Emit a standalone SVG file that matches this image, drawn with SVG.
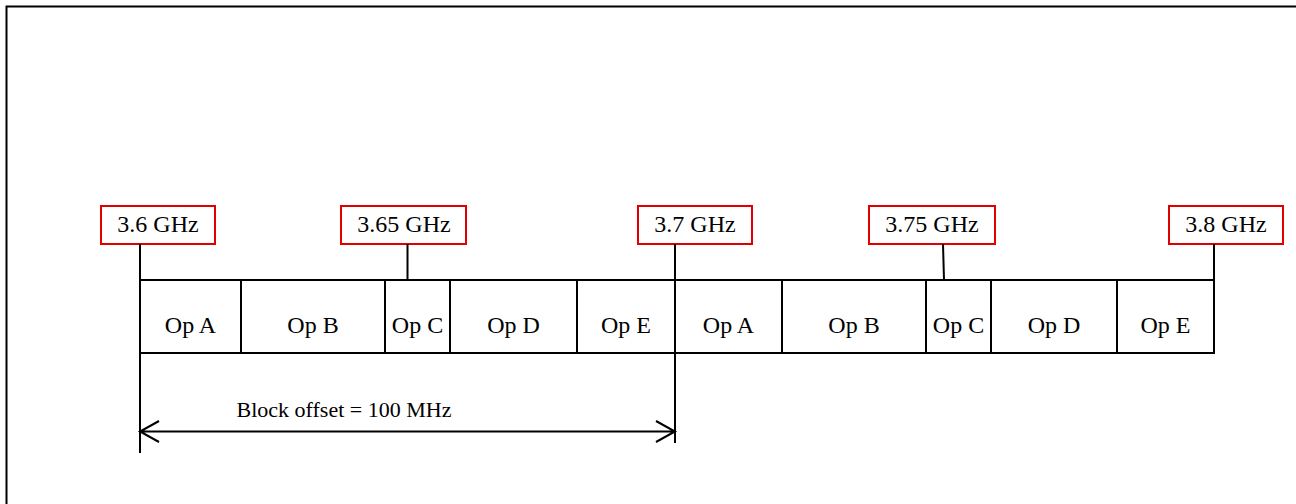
<svg xmlns="http://www.w3.org/2000/svg" width="1296" height="504" viewBox="0 0 1296 504">
<style>
.frame{fill:none;stroke:#000;stroke-width:2}
.lbl{fill:#fff;stroke:#e00000;stroke-width:2}
.ln{fill:none;stroke:#000;stroke-width:2}
.cell{fill:#fff;stroke:#000;stroke-width:2}
.t{font-family:"Liberation Serif","Times New Roman",serif;font-size:24px;fill:#000;text-anchor:middle}
.t2{font-family:"Liberation Serif","Times New Roman",serif;font-size:22px;fill:#000;text-anchor:middle}
</style>
<rect width="1296" height="504" fill="#fff"/>
<path class="frame" d="M6.5,504 V6.5 H1296"/>
<g id="freq-labels">
<g id="f360"><rect class="lbl" x="101" y="206" width="114" height="38"/><text class="t" x="158" y="232">3.6 GHz</text></g>
<g id="f365"><rect class="lbl" x="341" y="206" width="125" height="38"/><text class="t" x="404" y="232">3.65 GHz</text></g>
<g id="f370"><rect class="lbl" x="638" y="206" width="114" height="38"/><text class="t" x="695" y="232">3.7 GHz</text></g>
<g id="f375"><rect class="lbl" x="869" y="206" width="126" height="38"/><text class="t" x="932" y="232">3.75 GHz</text></g>
<g id="f380"><rect class="lbl" x="1169" y="206" width="114" height="38"/><text class="t" x="1226" y="232">3.8 GHz</text></g>
</g>
<g id="cells">
<g id="a1"><rect class="cell" x="140" y="280" width="101" height="73"/><text class="t" x="190.5" y="333">Op A</text></g>
<g id="b1"><rect class="cell" x="241" y="280" width="144" height="73"/><text class="t" x="313" y="333">Op B</text></g>
<g id="c1"><rect class="cell" x="385" y="280" width="65" height="73"/><text class="t" x="417.5" y="333">Op C</text></g>
<g id="d1"><rect class="cell" x="450" y="280" width="127" height="73"/><text class="t" x="513.5" y="333">Op D</text></g>
<g id="e1"><rect class="cell" x="577" y="280" width="98" height="73"/><text class="t" x="626" y="333">Op E</text></g>
<g id="a2"><rect class="cell" x="675" y="280" width="107" height="73"/><text class="t" x="728.5" y="333">Op A</text></g>
<g id="b2"><rect class="cell" x="782" y="280" width="144" height="73"/><text class="t" x="854" y="333">Op B</text></g>
<g id="c2"><rect class="cell" x="926" y="280" width="65" height="73"/><text class="t" x="958.5" y="333">Op C</text></g>
<g id="d2"><rect class="cell" x="991" y="280" width="126" height="73"/><text class="t" x="1054" y="333">Op D</text></g>
<g id="e2"><rect class="cell" x="1117" y="280" width="97" height="73"/><text class="t" x="1165.5" y="333">Op E</text></g>
</g>
<g id="connectors">
<path class="ln" d="M140,244 V280 M407.5,244 V280 M675,244 V280 M943,244 L944,280 M1214,244 V280"/>
<path class="ln" d="M140,353 V453 M675,353 V443"/>
<path class="ln" d="M140,431.5 H675 M159,421 L140,431.5 L159,442 M656,421 L675,431.5 L656,442"/>
</g>
<g id="offset-label"><text class="t2" x="344" y="417">Block offset = 100 MHz</text></g>
</svg>
